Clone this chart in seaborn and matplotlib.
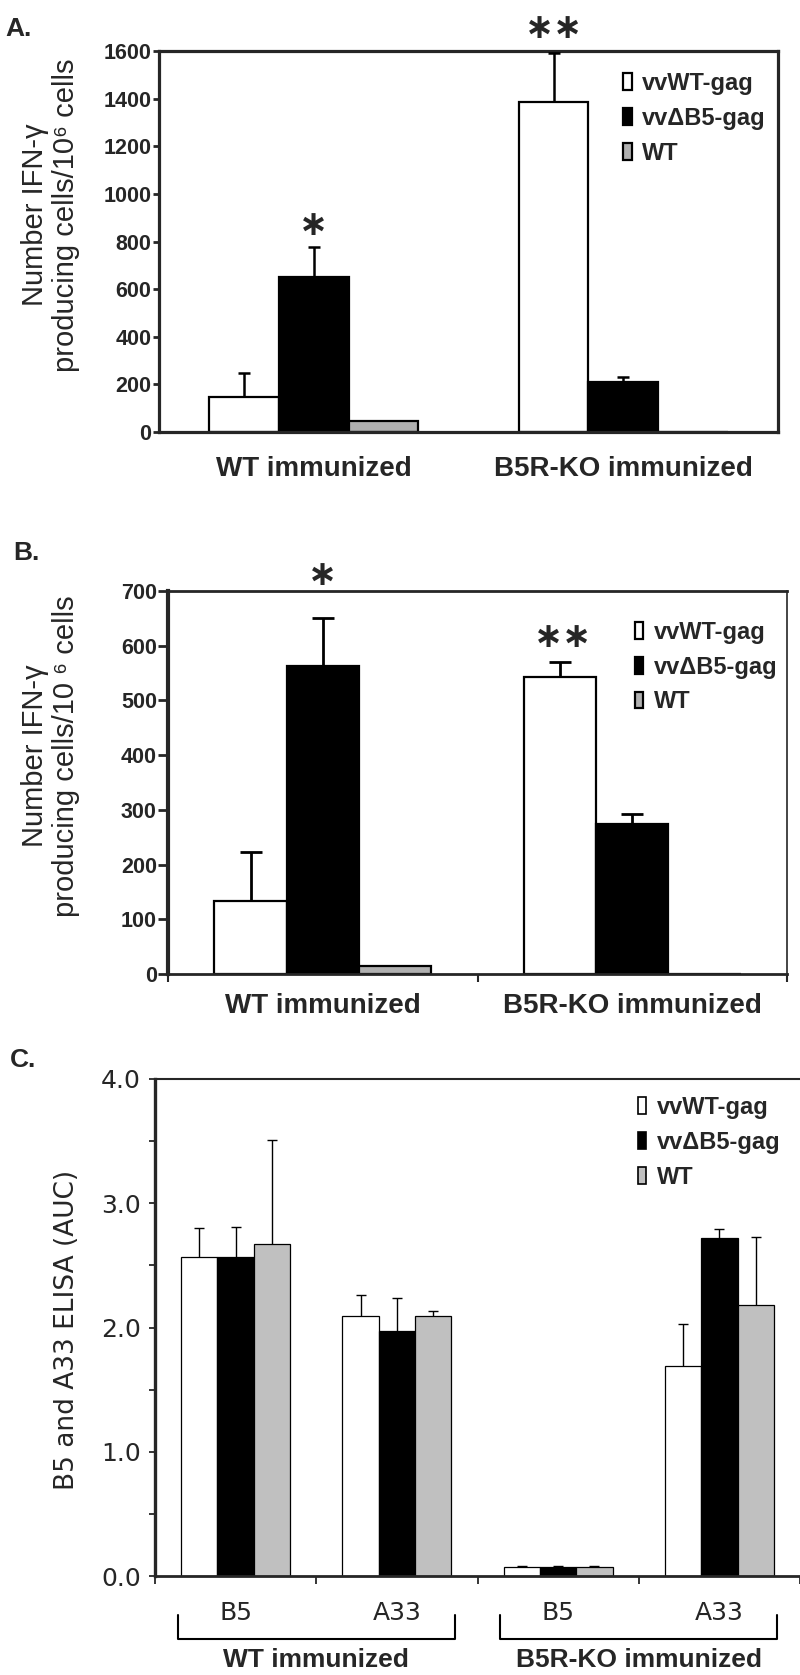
import numpy as np
import pandas as pd
import matplotlib
matplotlib.use("Agg")
import matplotlib.pyplot as plt
import matplotlib.patches as mpatches
import matplotlib.transforms as mtransforms
from matplotlib import font_manager as fm
from matplotlib.ticker import FixedLocator, NullFormatter
import seaborn as sns

# ---------------- data ----------------
series = ["vvWT-gag", "vv\u0394B5-gag", "WT"]
groups_ab = ["WT immunized", "B5R-KO immunized"]

# Panel A  (IFN-gamma producing cells / 10^6 cells)
a_vvwt = [147, 1386]
a_vvdb5 = [651, 210]
a_wt = [46, 0]
a_vvwt_err = [101, 205]
a_vvdb5_err = [126, 21]
a_wt_err = [0, 0]
a_yticks = [0, 200, 400, 600, 800, 1000, 1200, 1400, 1600]

# Panel B
b_vvwt = [133, 543]
b_vvdb5 = [563, 274]
b_wt = [15, 0]
b_vvwt_err = [90, 27]
b_vvdb5_err = [88, 18]
b_wt_err = [0, 0]
b_yticks = [0, 100, 200, 300, 400, 500, 600, 700]

# Panel C  (B5 and A33 ELISA, AUC)
c_keys = ["WT-B5", "WT-A33", "KO-B5", "KO-A33"]
c_ticklabels = ["B5", "A33", "B5", "A33"]
c_groups = ["WT immunized", "B5R-KO immunized"]
c_vvwt = [2.57, 2.09, 0.07, 1.69]
c_vvdb5 = [2.57, 1.97, 0.07, 2.72]
c_wt = [2.67, 2.09, 0.07, 2.18]
c_vvwt_err = [0.23, 0.17, 0.01, 0.34]
c_vvdb5_err = [0.24, 0.27, 0.01, 0.07]
c_wt_err = [0.84, 0.04, 0.01, 0.55]
c_yticks = [0.0, 1.0, 2.0, 3.0, 4.0]
c_yminor = [0.5, 1.5, 2.5, 3.5]

# ---------------- style ----------------
sns.set_style("ticks")
plt.rcParams["font.family"] = ["Liberation Sans", "DejaVu Sans"]


def has_font(name):
    try:
        fm.findfont(fm.FontProperties(family=name), fallback_to_default=False)
        return True
    except Exception:
        return False


NARROW = "Liberation Sans Narrow" if has_font("Liberation Sans Narrow") else "Liberation Sans"
TICK_SIZE_AB = 16 if NARROW == "Liberation Sans Narrow" else 15.5

W = 800
H = 1675
fig = plt.figure(figsize=(W / 100, H / 100), dpi=100)


def px_axes(left, top, right, bottom):
    return fig.add_axes([left / W, 1 - bottom / H, (right - left) / W, (bottom - top) / H])


def draw_bars(ax, cats, vals, errs, colors, width, edge_lw, err_lw, capsize):
    rows = []
    for s, vlist in zip(series, vals):
        for c, v in zip(cats, vlist):
            rows.append({"group": c, "series": s, "value": v})
    df = pd.DataFrame(rows)
    sns.barplot(data=df, x="group", y="value", hue="series", order=cats,
                hue_order=series, palette=colors, width=width, saturation=1,
                edgecolor="black", linewidth=edge_lw, errorbar=None,
                legend=False, ax=ax)
    conts = list(ax.containers)
    for cont, elist in zip(conts, errs):
        xs, ys, es = [], [], []
        for p, e in zip(cont.patches, elist):
            if e > 0:
                xs.append(p.get_x() + p.get_width() / 2)
                ys.append(p.get_height())
                es.append(e)
        if xs:
            eb = ax.errorbar(xs, ys, yerr=[np.zeros(len(es)), es], fmt="none",
                             ecolor="black", elinewidth=err_lw, capsize=capsize,
                             capthick=err_lw, zorder=3)
            caps = eb[1]
            if len(caps) == 2:
                caps[0].set_visible(False)   # hide the cap drawn at the bar top
    return conts


def add_legend(ax, colors, x, y, edge_lw):
    handles = [mpatches.Patch(facecolor=c, edgecolor="black", linewidth=edge_lw)
               for c in colors]
    ax.legend(handles, series, loc="upper left", bbox_to_anchor=(x, y),
              frameon=False, prop={"weight": "bold", "size": 17},
              handlelength=0.35, handleheight=0.7, handletextpad=0.45,
              labelspacing=0.5, borderpad=0, borderaxespad=0)


def star(ax, x, y, n):
    ax.text(x, y, "\u2217" * n, ha="center", va="center", fontsize=25,
            family="DejaVu Sans", fontweight="bold", clip_on=False)


colors_ab = ["white", "black", "#b0b0b0"]
colors_c = ["white", "black", "#c0c0c0"]

# ---------------- Panel A ----------------
axA = px_axes(159, 51, 778, 432)
draw_bars(axA, groups_ab, [a_vvwt, a_vvdb5, a_wt], [a_vvwt_err, a_vvdb5_err, a_wt_err],
          colors_ab, 0.675, 1.6, 1.8, 4.5)
axA.set_xlim(-0.5, 1.5)
axA.set_ylim(0, 1600)
axA.set_yticks(a_yticks)
axA.set_yticklabels([str(t) for t in a_yticks], fontweight="bold", family=NARROW,
                    fontsize=TICK_SIZE_AB)
axA.tick_params(axis="y", direction="out", length=4.5, width=2, pad=1)
axA.set_xticks([0, 1])
axA.set_xticklabels(groups_ab, fontweight="bold", fontsize=20)
axA.tick_params(axis="x", length=0, pad=17)
axA.set_xlabel("")
for sp in axA.spines.values():
    sp.set_visible(True)
    sp.set_linewidth(2.3)
axA.set_ylabel("Number IFN-\u03b3\nproducing cells/10\u2076 cells", fontsize=21,
               linespacing=1.15)
axA.yaxis.label.set_va("center")
axA.yaxis.set_label_coords(-0.175, 0.57)
add_legend(axA, colors_ab, 0.75, 0.945, 1.6)
star(axA, 0, 869, 1)
star(axA, 0.775, 1697, 2)

# ---------------- Panel B ----------------
axB = px_axes(168, 591, 787, 974)
draw_bars(axB, groups_ab, [b_vvwt, b_vvdb5, b_wt], [b_vvwt_err, b_vvdb5_err, b_wt_err],
          colors_ab, 0.7, 1.6, 2.0, 8)
axB.set_xlim(-0.5, 1.5)
axB.set_ylim(0, 700)
axB.set_yticks(b_yticks)
axB.set_yticklabels([str(t) for t in b_yticks], fontweight="bold", family=NARROW,
                    fontsize=TICK_SIZE_AB)
axB.tick_params(axis="y", direction="out", length=7, width=2, pad=1)
axB.set_xticks([0, 1])
axB.set_xticklabels(groups_ab, fontweight="bold", fontsize=20)
axB.xaxis.set_minor_locator(FixedLocator([-0.5, 0.5, 1.5]))
axB.tick_params(axis="x", which="major", length=0, pad=14)
axB.tick_params(axis="x", which="minor", direction="out", length=6, width=1.5)
axB.set_xlabel("")
for sp in axB.spines.values():
    sp.set_visible(True)
axB.spines["left"].set_linewidth(3)
axB.spines["top"].set_linewidth(2)
axB.spines["bottom"].set_linewidth(2)
axB.spines["right"].set_linewidth(1.2)
axB.set_ylabel("Number IFN-\u03b3\nproducing cells/10 \u2076 cells", fontsize=21,
               linespacing=1.15)
axB.yaxis.label.set_va("center")
axB.yaxis.set_label_coords(-0.19, 0.57)
add_legend(axB, colors_ab, 0.754, 0.922, 1.6)
star(axB, 0, 729, 1)
star(axB, -0.225 + 1, 616, 2)

# ---------------- Panel C ----------------
axC = px_axes(155, 1079, 800, 1576)
draw_bars(axC, c_keys, [c_vvwt, c_vvdb5, c_wt], [c_vvwt_err, c_vvdb5_err, c_wt_err],
          colors_c, 0.675, 0.9, 1.0, 3.5)
axC.set_xlim(-0.5, 3.5)
axC.set_ylim(0, 4)
axC.set_yticks(c_yticks)
axC.set_yticklabels([f"{t:.1f}" for t in c_yticks], family="DejaVu Sans", fontsize=18)
axC.yaxis.set_minor_locator(FixedLocator(c_yminor))
axC.yaxis.set_minor_formatter(NullFormatter())
axC.tick_params(axis="y", which="both", direction="out", length=4, width=1.3, pad=6)
axC.set_xticks(range(len(c_keys)))
axC.set_xticklabels(c_ticklabels, family="DejaVu Sans", fontsize=18)
axC.xaxis.set_minor_locator(FixedLocator([-0.5, 0.5, 1.5, 2.5, 3.5]))
axC.tick_params(axis="x", which="major", length=0, pad=18)
axC.tick_params(axis="x", which="minor", direction="out", length=6, width=1.3)
axC.set_xlabel("")
axC.spines["right"].set_visible(False)
axC.spines["top"].set_visible(True)
axC.spines["left"].set_linewidth(2.4)
axC.spines["top"].set_linewidth(1.5)
axC.spines["bottom"].set_linewidth(2)
axC.set_ylabel("B5 and A33 ELISA (AUC)", family="DejaVu Sans", fontsize=19)
axC.yaxis.label.set_va("center")
axC.yaxis.set_label_coords(-0.136, 0.495)
add_legend(axC, colors_c, 0.749, 0.966, 1.2)

trans = mtransforms.blended_transform_factory(axC.transData, axC.transAxes)
for gi, gname in enumerate(c_groups):
    first = 2 * gi
    last = 2 * gi + 1
    x0, x1 = first - 0.36, last + 0.36
    axC.plot([x0, x0, x1, x1], [-0.078, -0.127, -0.127, -0.078], color="black",
             lw=1.5, transform=trans, clip_on=False)
    axC.text((first + last) / 2, -0.17, gname, transform=trans, ha="center",
             va="center", fontsize=19, fontweight="bold")

# ---------------- panel letters ----------------
fig.text(5 / W, 1 - 29 / H, "A.", fontsize=19, fontweight="bold", va="center", ha="left")
fig.text(13 / W, 1 - 553 / H, "B.", fontsize=19, fontweight="bold", va="center", ha="left")
fig.text(10 / W, 1 - 1060 / H, "C.", fontsize=19, fontweight="bold", va="center", ha="left")

fig.savefig("out.png", dpi=100)
